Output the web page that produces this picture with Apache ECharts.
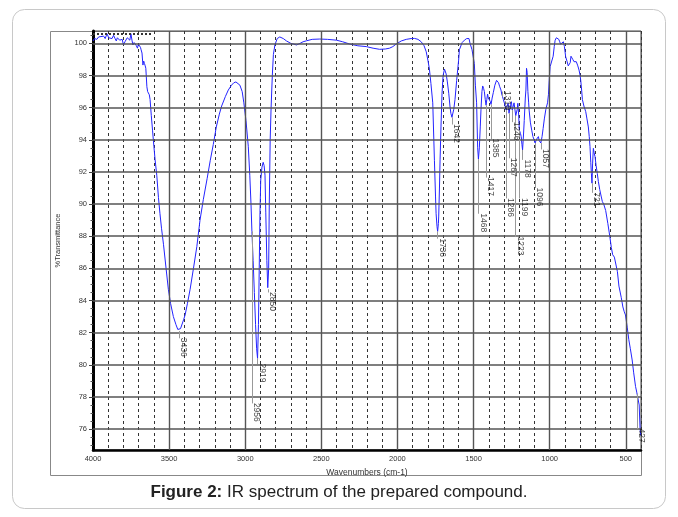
<!DOCTYPE html>
<html>
<head>
<meta charset="utf-8">
<script src="https://cdn.jsdelivr.net/npm/echarts@6/dist/echarts.min.js"></script>
<style>
  html, body { margin: 0; padding: 0; background: #fff; }
  #chart { width: 678px; height: 517px; }
</style>
</head>
<body>
<div id="chart"></div>
<script>
// IR spectrum: wavenumber (cm-1) and %T
const wavenumbers = [
  4000, 3990, 3975, 3963, 3950, 3930, 3920, 3908, 3897, 3887, 3875, 3865, 3855, 3847, 3840, 3832,
  3825, 3817, 3808, 3800, 3790, 3782, 3775, 3767, 3758, 3751, 3744, 3738, 3730, 3723, 3715, 3708,
  3702, 3695, 3688, 3684, 3678, 3672, 3667, 3662, 3657, 3653, 3646, 3641, 3636, 3630, 3625, 3617,
  3609, 3600, 3592, 3581, 3570, 3560, 3550, 3537, 3520, 3505, 3490, 3472, 3455, 3443, 3436, 3425,
  3417, 3405, 3395, 3380, 3362, 3340, 3318, 3297, 3275, 3250, 3230, 3210, 3190, 3170, 3155, 3130,
  3111, 3090, 3075, 3061, 3048, 3035, 3020, 3009, 2995, 2980, 2970, 2962, 2956, 2948, 2940, 2932,
  2925, 2919, 2913, 2908, 2903, 2898, 2890, 2882, 2876, 2870, 2865, 2858, 2852, 2850, 2846, 2842,
  2836, 2830, 2822, 2815, 2805, 2790, 2773, 2750, 2729, 2700, 2680, 2663, 2653, 2640, 2620, 2598,
  2560, 2510, 2460, 2401, 2360, 2314, 2260, 2205, 2160, 2117, 2080, 2052, 2030, 2008, 1975, 1942,
  1910, 1888, 1865, 1844, 1825, 1811, 1800, 1790, 1780, 1768, 1757, 1750, 1746, 1740, 1736, 1731,
  1729, 1724, 1720, 1714, 1707, 1700, 1691, 1685, 1680, 1672, 1663, 1655, 1649, 1642, 1637, 1630,
  1622, 1611, 1598, 1593, 1575, 1560, 1545, 1538, 1530, 1523, 1510, 1495, 1488, 1480, 1473, 1468,
  1462, 1456, 1451, 1445, 1440, 1434, 1429, 1423, 1418, 1413, 1408, 1403, 1397, 1391, 1385, 1378,
  1370, 1360, 1349, 1342, 1336, 1328, 1320, 1315, 1310, 1304, 1297, 1290, 1286, 1280, 1273, 1267,
  1262, 1257, 1251, 1246, 1240, 1234, 1228, 1223, 1218, 1213, 1209, 1204, 1199, 1192, 1187, 1182,
  1178, 1172, 1167, 1160, 1156, 1152, 1148, 1143, 1138, 1135, 1127, 1118, 1110, 1102, 1096, 1091,
  1085, 1081, 1074, 1069, 1063, 1058, 1050, 1043, 1035, 1025, 1014, 1008, 1003, 997, 990, 986,
  977, 970, 964, 956, 949, 940, 934, 928, 923, 916, 910, 903, 895, 885, 878, 872,
  865, 860, 855, 848, 840, 833, 825, 815, 807, 800, 796, 790, 785, 775, 763, 755,
  746, 740, 735, 730, 726, 722, 718, 713, 708, 702, 695, 687, 680, 671, 662, 654,
  645, 632, 618, 605, 595, 586, 575, 563, 555, 545, 530, 519, 510, 502, 490, 480,
  470, 458, 448, 436, 428, 419, 412, 406, 402
];
const transmittance = [
  100.15, 100.3, 100.25, 100.4, 100.35, 100.45, 100.3, 100.6, 100.35, 100.45, 100.3, 100.5, 100.3, 100.15, 100.35, 100.4,
  100.2, 100.1, 100.25, 99.9, 100.1, 100.2, 100.35, 100.4, 100.2, 100.6, 100.2, 99.9, 100.05, 100.1, 99.85, 99.7,
  99.95, 99.9, 99.75, 99.6, 99.4, 98.65, 98.9, 98.75, 98.6, 98.45, 97.3, 97.0, 96.9, 96.8, 96.5, 95.5,
  94.6, 93.6, 92.75, 91.8, 90.4, 89.4, 88.5, 87.5, 86.0, 84.7, 83.8, 83.0, 82.5, 82.2, 82.1, 82.25,
  82.35, 82.8, 83.1, 83.8, 84.7, 86.0, 87.35, 89.0, 90.3, 91.6, 92.7, 93.7, 94.8, 95.6, 96.1, 96.7,
  97.1, 97.4, 97.55, 97.6, 97.55, 97.4, 97.0, 96.3, 95.2, 93.6, 91.8, 90.0, 88.3, 86.5, 84.5, 82.5,
  81.0, 80.4, 82.5, 86.0, 89.5, 91.5, 92.3, 92.6, 92.4, 91.8, 89.5, 86.5, 84.8, 84.7, 86.0, 90.0,
  94.0, 96.0, 98.0, 99.3, 99.9, 100.3, 100.4, 100.3, 100.15, 100.0, 99.95, 99.9, 99.9, 100.0, 100.1, 100.16,
  100.25, 100.27, 100.25, 100.2, 100.1, 99.96, 99.85, 99.8, 99.7, 99.63, 99.65, 99.7, 99.8, 99.96, 100.15, 100.25,
  100.3, 100.31, 100.25, 100.1, 99.85, 99.48, 98.96, 98.4, 97.5, 96.3, 92.7, 90.5, 89.4, 88.6, 88.3, 88.8,
  89.2, 91.0, 92.75, 94.8, 96.9, 98.0, 98.4, 98.3, 98.1, 97.6, 96.9, 96.1, 95.65, 95.4, 95.45, 95.9,
  96.5, 97.7, 98.96, 99.6, 100.05, 100.2, 100.3, 100.25, 100.3, 100.0, 99.6, 98.75, 97.4, 96.3, 93.5, 92.8,
  93.5, 94.8, 95.9, 97.0, 97.35, 97.2, 97.0, 96.5, 96.15, 96.5, 96.85, 96.6, 96.55, 96.4, 96.2, 96.6,
  96.95, 97.4, 97.7, 97.75, 97.55, 97.3, 97.1, 96.85, 96.7, 96.5, 96.27, 96.0, 95.85, 96.1, 96.27, 95.65,
  95.7, 96.2, 96.37, 95.85, 95.85, 96.3, 96.37, 95.5, 95.44, 95.9, 96.27, 95.6, 94.6, 94.4, 94.2, 93.7,
  93.37, 94.3, 95.2, 96.6, 97.1, 98.45, 98.2, 97.0, 96.3, 95.85, 95.1, 94.6, 94.2, 94.0, 93.8, 93.85,
  94.05, 94.0, 94.2, 93.95, 93.85, 93.8, 94.2, 94.7, 95.3, 95.9, 96.3, 96.8, 97.7, 98.55, 98.6, 98.65,
  99.2, 99.8, 100.2, 100.35, 100.37, 100.25, 100.1, 99.95, 99.9, 100.0, 100.1, 99.8, 99.17, 98.85, 98.6, 98.55,
  98.8, 99.2, 99.27, 99.0, 98.86, 98.95, 98.86, 98.6, 98.34, 98.0, 97.7, 97.1, 96.5, 96.1, 95.75, 95.3,
  94.8, 94.2, 93.57, 92.6, 91.9, 91.3, 92.5, 93.47, 93.2, 92.95, 92.4, 91.9, 91.4, 90.9, 90.5, 90.16,
  90.0, 89.6, 88.8, 88.0, 87.3, 86.85, 86.7, 86.6, 85.8, 84.9, 84.2, 83.6, 83.3, 83.1, 82.3, 81.56,
  81.0, 80.3, 79.5, 78.66, 78.3, 78.25, 77.5, 76.0, 75.6
];

// peak annotations: wavenumber, %T where the leader starts, %T where the label starts
const peakWavenumbers = [3436, 2956, 2919, 2850, 1736, 1642, 1468, 1417, 1385, 1310, 1286, 1267, 1246, 1223, 1199, 1178, 1096, 1057, 721, 427];
const peakCurveT = [82.1, 88.3, 80.4, 84.7, 88.3, 95.4, 92.8, 96.15, 96.2, 96.7, 95.85, 95.65, 95.85, 95.5, 94.6, 93.37, 93.8, 93.8, 91.3, 78.2];
const peakLabelT = [81.65, 77.6, 80.05, 84.5, 87.85, 94.95, 89.4, 91.65, 94.05, 97.0, 90.35, 92.85, 95.1, 87.95, 90.35, 92.75, 91.0, 93.4, 90.7, 76.0];

const yTicks = [76, 78, 80, 82, 84, 86, 88, 90, 92, 94, 96, 98, 100];
const yMinorTicks = [75, 75.5, 76.5, 77, 77.5, 78.5, 79, 79.5, 80.5, 81, 81.5, 82.5, 83, 83.5, 84.5, 85, 85.5,
  86.5, 87, 87.5, 88.5, 89, 89.5, 90.5, 91, 91.5, 92.5, 93, 93.5, 94.5, 95, 95.5, 96.5, 97, 97.5, 98.5, 99, 99.5, 100.5];
const xMajor = [3500, 3000, 2500, 2000, 1500, 1000, 500];

const FONT = '"Liberation Sans", Arial, sans-serif';
const chart = echarts.init(document.getElementById('chart'));

const spectrum = wavenumbers.map((w, i) => [w, transmittance[i]]);

chart.setOption({
  animation: false,
  textStyle: { fontFamily: FONT },
  title: {
    text: '{b|Figure 2:} IR spectrum of the prepared compound.',
    left: 'center',
    top: 479,
    textStyle: {
      fontSize: 17, fontWeight: 'normal', color: '#222', fontFamily: FONT,
      rich: { b: { fontSize: 17, fontWeight: 'bold', color: '#222', fontFamily: FONT } },
    },
  },
  graphic: [
    { type: 'rect', shape: { x: 12.5, y: 9.5, width: 653, height: 499, r: 12 },
      style: { fill: 'none', stroke: '#c8c8c8', lineWidth: 1 }, z: -10, silent: true },
    { type: 'rect', shape: { x: 50.5, y: 31.5, width: 591, height: 444 },
      style: { fill: 'none', stroke: '#888', lineWidth: 1 }, z: -10, silent: true },
  ],
  grid: { left: 93, right: 37, top: 31, bottom: 67, show: true, borderColor: '#444', borderWidth: 1 },
  xAxis: {
    type: 'value', min: 400, max: 4000, interval: 100, inverse: true,
    axisLine: { show: true, onZero: false, lineStyle: { color: '#000', width: 2.5 } },
    axisTick: { show: false },
    axisLabel: { formatter: v => (v % 500 === 0 ? String(v) : ''), fontSize: 7.5, color: '#333', margin: 5 },
    splitLine: { show: true, lineStyle: { color: '#333', type: [3, 3], width: 1 } },
    name: 'Wavenumbers (cm-1)', nameLocation: 'middle', nameGap: 15,
    nameTextStyle: { fontSize: 8.5, color: '#333' },
  },
  yAxis: [
    {
      type: 'value', min: 74.7, max: 100.77,
      axisLine: { show: true, onZero: false, lineStyle: { color: '#000', width: 3 } },
      axisTick: { show: true, customValues: yTicks, length: 4, lineStyle: { color: '#444' } },
      axisLabel: { customValues: yTicks, fontSize: 7.5, color: '#333', margin: 6 },
      splitLine: { show: false },
      name: '%Transmittance', nameLocation: 'middle', nameGap: 31, nameRotate: 90,
      nameTextStyle: { fontSize: 7.5, color: '#333' },
    },
    {
      type: 'value', min: 74.7, max: 100.77, position: 'left',
      axisLine: { show: false },
      axisTick: { show: true, customValues: yMinorTicks, length: 2.5, lineStyle: { color: '#555' } },
      axisLabel: { show: false },
      splitLine: { show: false },
    },
  ],
  series: [
    {
      // grid: solid every 2 %T and every 500 cm-1
      name: 'grid', type: 'line', data: [], silent: true, z: 1,
      markLine: {
        silent: true, symbol: 'none', animation: false,
        label: { show: false },
        data: [
          ...yTicks.map(v => ({ yAxis: v, lineStyle: { color: '#555', width: 1.6, type: 'solid' } })),
          ...xMajor.map(v => ({ xAxis: v, lineStyle: { color: '#555', width: 1.4, type: 'solid' } })),
        ],
      },
    },
    {
      name: 'leaders', type: 'line', data: [], silent: true, z: 2,
      markLine: {
        silent: true, symbol: 'none', animation: false,
        label: { show: false },
        lineStyle: { color: '#999', width: 1, type: 'solid' },
        data: [
          ...peakWavenumbers.map((w, i) => [{ coord: [w, peakCurveT[i]] }, { coord: [w, peakLabelT[i]] }]),
          [{ coord: [4000, 100.62], lineStyle: { color: '#333', width: 2, type: 'dotted' } },
           { coord: [3612, 100.62] }],
        ],
      },
    },
    {
      name: 'spectrum', type: 'line', data: spectrum, symbol: 'none', z: 4,
      lineStyle: { color: '#2323ff', width: 1 },
    },
    {
      name: 'peaks', type: 'scatter', symbol: 'circle', symbolSize: 1, z: 5, silent: true,
      data: peakWavenumbers.map((w, i) => [w, peakLabelT[i], String(w)]),
      itemStyle: { color: 'rgba(0,0,0,0)' },
      labelLayout: { hideOverlap: false },
      label: {
        show: true, formatter: p => p.value[2], position: [0.5, 0], rotate: -90,
        align: 'left', verticalAlign: 'bottom', fontSize: 8.5, color: '#111',
        textBorderWidth: 0, fontFamily: FONT,
      },
    },
  ],
});
</script>
</body>
</html>
